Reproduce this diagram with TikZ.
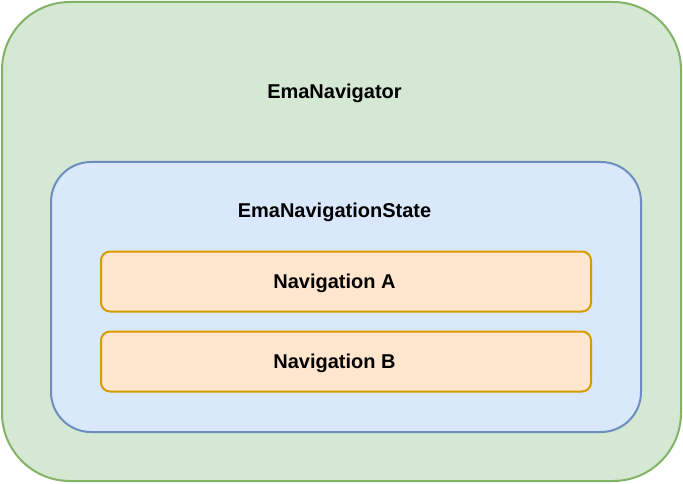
\documentclass[tikz,border=0pt]{standalone}
\usepackage{fontspec}
\setmainfont{Liberation Sans}
\definecolor{navgreen}{HTML}{D5E8D4}
\definecolor{navgreenline}{HTML}{82B366}
\definecolor{navblue}{HTML}{DAE8FC}
\definecolor{navblueline}{HTML}{6C8EBF}
\definecolor{navorange}{HTML}{FFE6CC}
\definecolor{navorangeline}{HTML}{D79B00}
\begin{document}
\begin{tikzpicture}[x=1pt,y=-1pt]
\tikzstyle{every node}+=[inner sep=0pt, font=\fontsize{20}{24}\selectfont\bfseries]
\tikzstyle{box}=[draw, line width=2pt, rectangle]
\useasboundingbox (0,0) rectangle (683,484);
\node [box, fill=navgreen, draw=navgreenline, rounded corners=68pt, minimum width=679pt, minimum height=479pt] (navigator) at (341.5,241.5) {};
\node [anchor=base] (navigatorlabel) at (334.5,98.5) {EmaNavigator};
\node [box, fill=navblue, draw=navblueline, rounded corners=40pt, minimum width=590pt, minimum height=270pt] (state) at (346,297) {};
\node [anchor=base] (statelabel) at (334.5,218) {EmaNavigationState};
\node [box, fill=navorange, draw=navorangeline, rounded corners=9pt, minimum width=490pt, minimum height=60pt] (navA) at (346,281.5) {};
\node [anchor=base] (navAlabel) at (334.5,288) {Navigation A};
\node [box, fill=navorange, draw=navorangeline, rounded corners=9pt, minimum width=490pt, minimum height=60pt] (navB) at (346,361.5) {};
\node [anchor=base] (navBlabel) at (334.5,368) {Navigation B};
\end{tikzpicture}
\end{document}
